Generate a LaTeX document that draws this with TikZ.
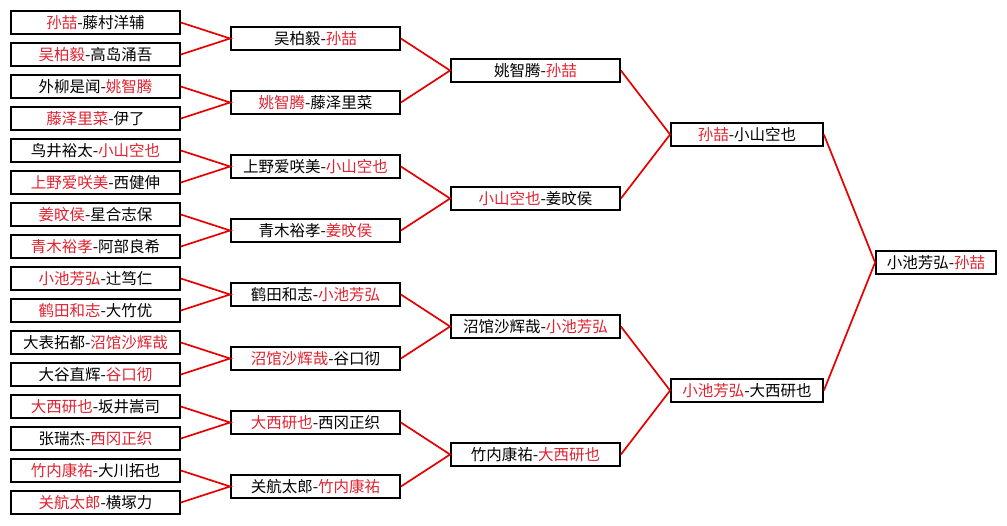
\documentclass[tikz,border=0pt]{standalone}
\usepackage{fontspec}
\setmainfont{Noto Sans CJK SC}
\definecolor{winred}{RGB}{224,34,48}
\definecolor{wirered}{RGB}{230,0,0}
\newcommand{\win}[1]{\textcolor{winred}{#1}}

\begin{document}
\begin{tikzpicture}[x=1pt, y=-1pt, every node/.style={rectangle, draw, line width=1.8pt, minimum height=23pt, inner sep=0pt, font=\fontsize{15.5}{17}\selectfont}, wire/.style={wirered, line width=1.7pt}]
		\useasboundingbox (0,0) rectangle (1007,525);
		% round 1
		\node[minimum width=169pt] (a1) at (95.5, 22.5) {\win{孙喆}-藤村洋辅};
		\node[minimum width=169pt] (a2) at (95.5, 54.5) {\win{吴柏毅}-高岛涌吾};
		\node[minimum width=169pt] (a3) at (95.5, 86.5) {外柳是闻-\win{姚智腾}};
		\node[minimum width=169pt] (a4) at (95.5, 118.5) {\win{藤泽里菜}-伊了};
		\node[minimum width=169pt] (a5) at (95.5, 150.5) {鸟井裕太-\win{小山空也}};
		\node[minimum width=169pt] (a6) at (95.5, 182.5) {\win{上野爱咲美}-西健伸};
		\node[minimum width=169pt] (a7) at (95.5, 214.5) {\win{姜旼侯}-星合志保};
		\node[minimum width=169pt] (a8) at (95.5, 246.5) {\win{青木裕孝}-阿部良希};
		\node[minimum width=169pt] (a9) at (95.5, 278.5) {\win{小池芳弘}-辻笃仁};
		\node[minimum width=169pt] (a10) at (95.5, 310.5) {\win{鹤田和志}-大竹优};
		\node[minimum width=169pt] (a11) at (95.5, 342.5) {大表拓都-\win{沼馆沙辉哉}};
		\node[minimum width=169pt] (a12) at (95.5, 374.5) {大谷直辉-\win{谷口彻}};
		\node[minimum width=169pt] (a13) at (95.5, 406.5) {\win{大西研也}-坂井嵩司};
		\node[minimum width=169pt] (a14) at (95.5, 438.5) {张瑞杰-\win{西冈正织}};
		\node[minimum width=169pt] (a15) at (95.5, 470.5) {\win{竹内康祐}-大川拓也};
		\node[minimum width=169pt] (a16) at (95.5, 502.5) {\win{关航太郎}-横塚力};
		% round 2
		\node[minimum width=169pt] (b1) at (315.5, 38.5) {吴柏毅-\win{孙喆}};
		\node[minimum width=169pt] (b2) at (315.5, 102.5) {\win{姚智腾}-藤泽里菜};
		\node[minimum width=169pt] (b3) at (315.5, 166.5) {上野爱咲美-\win{小山空也}};
		\node[minimum width=169pt] (b4) at (315.5, 230.5) {青木裕孝-\win{姜旼侯}};
		\node[minimum width=169pt] (b5) at (315.5, 294.5) {鹤田和志-\win{小池芳弘}};
		\node[minimum width=169pt] (b6) at (315.5, 358.5) {\win{沼馆沙辉哉}-谷口彻};
		\node[minimum width=169pt] (b7) at (315.5, 422.5) {\win{大西研也}-西冈正织};
		\node[minimum width=169pt] (b8) at (315.5, 486.5) {关航太郎-\win{竹内康祐}};
		% round 3
		\node[minimum width=169pt] (c1) at (535.5, 70.5) {姚智腾-\win{孙喆}};
		\node[minimum width=169pt] (c2) at (535.5, 198.5) {\win{小山空也}-姜旼侯};
		\node[minimum width=169pt] (c3) at (535.5, 326.5) {沼馆沙辉哉-\win{小池芳弘}};
		\node[minimum width=169pt] (c4) at (535.5, 454.5) {竹内康祐-\win{大西研也}};
		% semifinals and final
		\node[minimum width=152pt] (d1) at (747, 134.5) {\win{孙喆}-小山空也};
		\node[minimum width=152pt] (d2) at (747, 390.5) {\win{小池芳弘}-大西研也};
		\node[minimum width=120pt] (e) at (936, 262.5) {小池芳弘-\win{孙喆}};
		% connectors
		\draw[wire] (a1.east) -- (b1.west) -- (a2.east);
		\draw[wire] (a3.east) -- (b2.west) -- (a4.east);
		\draw[wire] (a5.east) -- (b3.west) -- (a6.east);
		\draw[wire] (a7.east) -- (b4.west) -- (a8.east);
		\draw[wire] (a9.east) -- (b5.west) -- (a10.east);
		\draw[wire] (a11.east) -- (b6.west) -- (a12.east);
		\draw[wire] (a13.east) -- (b7.west) -- (a14.east);
		\draw[wire] (a15.east) -- (b8.west) -- (a16.east);
		\draw[wire] (b1.east) -- (c1.west) -- (b2.east);
		\draw[wire] (b3.east) -- (c2.west) -- (b4.east);
		\draw[wire] (b5.east) -- (c3.west) -- (b6.east);
		\draw[wire] (b7.east) -- (c4.west) -- (b8.east);
		\draw[wire] (c1.east) -- (d1.west) -- (c2.east);
		\draw[wire] (c3.east) -- (d2.west) -- (c4.east);
		\draw[wire] (d1.east) -- (e.west) -- (d2.east);
	\end{tikzpicture}
\end{document}
